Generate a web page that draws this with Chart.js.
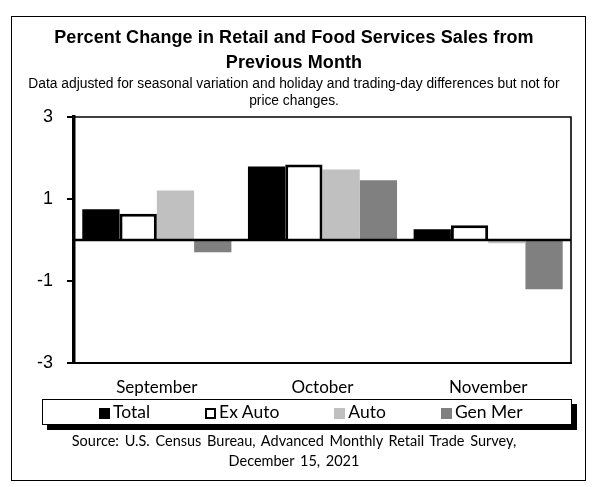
<!DOCTYPE html>
<html>
<head>
<meta charset="utf-8">
<script src="https://cdn.jsdelivr.net/npm/chart.js@4.4.1/dist/chart.umd.min.js"></script>
<style>
  html, body { margin: 0; padding: 0; background: #fff; }
  #wrap { position: relative; width: 600px; height: 487px; overflow: hidden; background: #fff; }
  #chartBox { position: absolute; left: 0; top: 0; width: 600px; height: 487px; }
  #frame { position: absolute; left: 11px; top: 16px; width: 573px; height: 463px; border: 1px solid #000; pointer-events: none; }
  .txt { position: absolute; left: 0; width: 588px; text-align: center; color: #000; white-space: nowrap; }
  #title { top: 25px; font: bold 18px "Liberation Sans", Arial, sans-serif; line-height: 25px; letter-spacing: 0.1px; }
  #subtitle { top: 76px; font: 13.8px "Liberation Sans Narrow", "Arial Narrow", "Liberation Sans", sans-serif; line-height: 16.7px; }
  #source { top: 431px; font: 14.5px Lato, sans-serif; line-height: 20px; word-spacing: 2px; }
  #legend { position: absolute; left: 42px; top: 399px; width: 530px; height: 26px; border: 1.5px solid #000; box-shadow: 5px 5px 0 #000; background: #fff;
            display: flex; align-items: center; padding-left: 56px; box-sizing: border-box; gap: 55px; }
  #legend .item { display: flex; align-items: center; font: 17.5px Lato, sans-serif; line-height: 20px; color: #000; }
  #legend .mk { width: 11px; height: 11px; margin-right: 3px; box-sizing: border-box; position: relative; top: 1px; }
</style>
</head>
<body>
<div id="wrap">
  <div id="chartBox"><canvas id="c"></canvas></div>
  <div id="frame"></div>
  <div id="title" class="txt"></div>
  <div id="subtitle" class="txt"></div>
  <div id="legend"></div>
  <div id="source" class="txt"></div>
</div>
<script>
// ---- data ----
const CATEGORIES = ['September', 'October', 'November'];
const SERIES_NAMES = ['Total', 'Ex Auto', 'Auto', 'Gen Mer'];
const TOTAL   = [0.75, 1.79, 0.26];
const EX_AUTO = [0.64, 1.84, 0.36];
const AUTO    = [1.21, 1.72, -0.08];
const GEN_MER = [-0.30, 1.46, -1.20];
const Y_TICKS = [-3, -1, 1, 3];
const TITLE_LINES = ['Percent Change in Retail and Food Services Sales from', 'Previous Month'];
const SUBTITLE_LINES = ['Data adjusted for seasonal variation and holiday and trading-day differences but not for', 'price changes.'];
const SOURCE_LINES = ['Source: U.S. Census Bureau, Advanced Monthly Retail Trade Survey,', 'December 15, 2021'];

// ---- styles ----
const FILLS = ['#000000', '#ffffff', '#c0c0c0', '#808080'];
const BORDERS = [0, 3, 0, 0];

function setLines(id, lines) {
  const el = document.getElementById(id);
  lines.forEach((l, i) => {
    if (i) el.appendChild(document.createElement('br'));
    el.appendChild(document.createTextNode(l));
  });
}
setLines('title', TITLE_LINES);
setLines('subtitle', SUBTITLE_LINES);
setLines('source', SOURCE_LINES);

const legend = document.getElementById('legend');
SERIES_NAMES.forEach((name, i) => {
  const it = document.createElement('div');
  it.className = 'item';
  const mk = document.createElement('span');
  mk.className = 'mk';
  mk.style.background = FILLS[i];
  if (BORDERS[i]) mk.style.border = '2.5px solid #000';
  const tx = document.createElement('span');
  tx.textContent = name;
  it.appendChild(mk); it.appendChild(tx);
  legend.appendChild(it);
});

const SERIES_VALUES = [TOTAL, EX_AUTO, AUTO, GEN_MER];

const framePlugin = {
  id: 'frameLines',
  afterDatasetsDraw(chart) {
    const { ctx, chartArea: a, scales: { y } } = chart;
    const y0 = y.getPixelForValue(0);
    ctx.save();
    ctx.strokeStyle = '#000';
    ctx.lineWidth = 2.7;
    ctx.beginPath(); ctx.moveTo(a.left, y0); ctx.lineTo(a.right, y0); ctx.stroke();
    ctx.lineWidth = 1.6;
    ctx.beginPath();
    ctx.moveTo(a.left, a.top); ctx.lineTo(a.right, a.top); ctx.lineTo(a.right, a.bottom);
    ctx.stroke();
    ctx.restore();
  }
};

new Chart(document.getElementById('c'), {
  type: 'bar',
  data: {
    labels: CATEGORIES,
    datasets: SERIES_NAMES.map((name, i) => ({
      label: name,
      data: SERIES_VALUES[i],
      backgroundColor: FILLS[i],
      borderColor: '#000',
      borderWidth: BORDERS[i],
      borderSkipped: 'start',
      categoryPercentage: 0.9,
      barPercentage: 1.0
    }))
  },
  options: {
    responsive: true,
    maintainAspectRatio: false,
    animation: false,
    layout: { padding: { left: 20, right: 29, top: 117, bottom: 84 } },
    plugins: { legend: { display: false }, tooltip: { enabled: false }, title: { display: false } },
    scales: {
      x: {
        grid: { display: false },
        border: { display: true, color: '#000', width: 2 },
        ticks: { color: '#000', font: { family: 'Lato', size: 17 }, padding: 6, maxRotation: 0 },
        afterFit(s) { s.height = 40; }
      },
      y: {
        min: -3, max: 3,
        afterBuildTicks(s) { s.ticks = Y_TICKS.map(v => ({ value: v })); },
        grid: { display: true, drawOnChartArea: false, drawTicks: true, tickLength: 7, lineWidth: 2, color: '#000' },
        border: { display: true, color: '#000', width: 3.5 },
        ticks: { color: '#000', font: { family: 'Liberation Sans', size: 18 }, padding: 14 },
        afterFit(s) { s.width = 54; }
      }
    }
  },
  plugins: [framePlugin]
});
</script>
</body>
</html>
